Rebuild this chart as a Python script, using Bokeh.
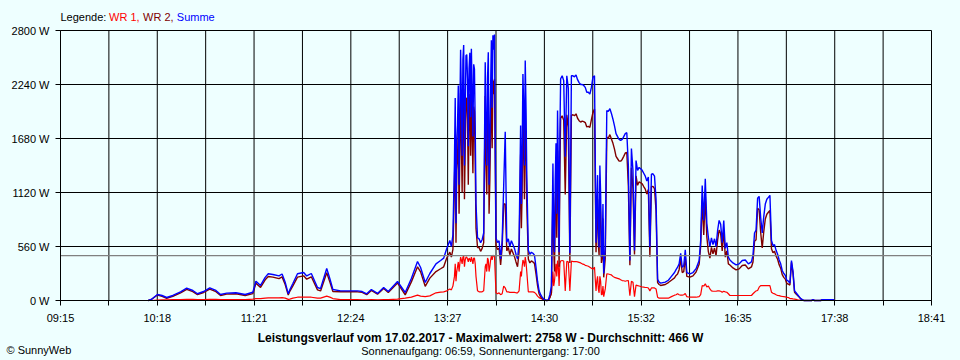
from bokeh.plotting import figure
from bokeh.models import Range1d, FixedTicker, PrintfTickFormatter, LinearAxis
from bokeh.core.properties import value
from bokeh.embed import file_html
from bokeh.resources import INLINE

# ---------------- data ----------------
times = [
    "10:12", "10:14", "10:18", "10:21", "10:24", "10:28", "10:33", "10:37", "10:41", "10:44", "10:48", "10:52", "10:56", "10:59",
    "11:03", "11:09", "11:15", "11:20", "11:22", "11:25", "11:28", "11:30", "11:33", "11:37", "11:39", "11:41", "11:43", "11:44", "11:46", "11:49", "11:53", "11:55", "11:58",
    "12:02", "12:04", "12:08", "12:10", "12:12", "12:17", "12:23", "12:28", "12:31", "12:34", "12:37", "12:41", "12:45", "12:48", "12:54", "12:59",
    "13:03", "13:07", "13:09", "13:12", "13:15", "13:19", "13:22", "13:24", "13:26", "13:28",
    "13:29", "13:30", "13:31", "13:32", "13:33", "13:34", "13:35", "13:36", "13:37", "13:38",
    "13:39", "13:40", "13:41", "13:42", "13:43", "13:44", "13:45", "13:46", "13:47", "13:48",
    "13:49", "13:50", "13:51", "13:52", "13:53", "13:54", "13:55", "13:56", "13:57", "13:58", "13:59",
    "14:00", "14:01", "14:02", "14:03", "14:04", "14:05", "14:06", "14:07", "14:08", "14:09",
    "14:10", "14:11", "14:12", "14:13", "14:14", "14:15", "14:16", "14:17", "14:18", "14:19",
    "14:20", "14:21", "14:22", "14:23", "14:24", "14:25", "14:26", "14:27", "14:28", "14:29",
    "14:30", "14:31", "14:32", "14:33", "14:34", "14:35", "14:36", "14:37", "14:38", "14:39",
    "14:40", "14:41", "14:42", "14:43", "14:44", "14:45", "14:46", "14:47", "14:48", "14:49",
    "14:50", "14:51", "14:52", "14:53", "14:54", "14:55", "14:56", "14:57", "14:58", "14:59",
    "15:00", "15:01", "15:02", "15:03", "15:04", "15:05", "15:06", "15:07", "15:08", "15:09",
    "15:10", "15:11", "15:12", "15:13", "15:14", "15:15", "15:16", "15:17", "15:18", "15:19",
    "15:20", "15:21", "15:22", "15:23", "15:24", "15:25", "15:26", "15:27", "15:28", "15:29",
    "15:30", "15:31", "15:32", "15:33", "15:34", "15:35", "15:36", "15:37", "15:38", "15:39",
    "15:40", "15:41", "15:42", "15:43", "15:44", "15:45",
    "15:48", "15:50", "15:52", "15:54", "15:55", "15:56", "15:57", "15:58", "15:59",
    "16:00", "16:01", "16:02", "16:04", "16:06", "16:08", "16:10",
    "16:11", "16:12", "16:13", "16:14", "16:15", "16:16", "16:17", "16:18", "16:19", "16:20",
    "16:21", "16:22", "16:23", "16:24", "16:25", "16:26", "16:27", "16:28", "16:29",
    "16:30", "16:32", "16:34", "16:36", "16:38", "16:40", "16:42", "16:44",
    "16:45", "16:46", "16:47", "16:48", "16:49", "16:50", "16:51", "16:52", "16:53", "16:54",
    "16:55", "16:56", "16:57", "16:58", "16:59",
    "17:00", "17:01", "17:02", "17:03", "17:04", "17:05", "17:06", "17:07", "17:08", "17:09",
    "17:10", "17:11", "17:12", "17:13", "17:14", "17:15", "17:16", "17:17", "17:18",
    "17:23", "17:24", "17:25", "17:29", "17:30", "17:37", "17:38",
]

summe = [
    0, 10, 62, 52, 31, 52, 90, 128, 104, 70, 93, 131, 104, 62,
    76, 80, 62, 86, 200, 156, 240, 277, 270, 255, 275, 190, 69, 110, 176, 277, 290, 255, 280,
    135, 124, 332, 228, 114, 100, 100, 100, 93, 69, 114, 73, 135, 93, 197, 83,
    228, 404, 342, 187, 280, 380, 415, 439, 540, 622,
    560, 680, 1430, 800, 1820, 1200, 2600, 1500, 2650, 2000,
    2550, 1600, 2570, 2610, 1700, 2400, 1000, 650, 640, 600,
    630, 700, 2470, 1400, 2575, 1600, 2700, 2750, 2758, 650, 600,
    620, 430, 620, 1190, 1750, 605, 640, 560, 620, 580,
    540, 480, 430, 600, 1815, 1500, 2000, 2489, 1300, 520,
    480, 500, 490, 470, 345, 200, 100, 60, 35, 15,
    5, 0, 5, 60, 150, 1420, 500, 1630, 1970, 500,
    2300, 2330, 2280, 1490, 2330, 2200, 490, 2330, 2330, 2320,
    2340, 2290, 2260, 2240, 2240, 2230, 2210, 2160, 2160, 2140,
    2210, 2316, 2330, 600, 1300, 550, 1100, 500, 280, 560,
    1970, 1960, 1990, 1940, 1880, 1810, 1730, 1700, 1670, 1660,
    1670, 1700, 1730, 1740, 1400, 415, 1576, 1350, 518, 1452,
    1350, 1380, 1366, 1350, 1320, 1290, 1240, 1280, 553, 1310,
    1314, 1290, 1050, 220, 190, 180,
    190, 210, 250, 290, 320, 345, 380, 490, 345,
    360, 525, 290, 277, 290, 330, 415,
    622, 1192, 830, 1262, 800, 656, 560, 650, 580, 640,
    560, 726, 830, 790, 600, 830, 540, 600, 450,
    420, 390, 370, 380, 415, 420, 380, 400,
    470, 700, 730, 1060, 1080, 860, 700, 870, 1000, 1050,
    1070, 1090, 622, 570, 580,
    520, 480, 420, 380, 311, 280, 260, 210, 200, 180,
    415, 300, 100, 80, 60, 40, 20, 10, 0,
    0, 8, 0, 0, 8, 8, 0,
]

wr1 = [
    0, 0, 5, 8, 8, 10, 10, 12, 12, 10, 10, 12, 12, 10,
    10, 10, 10, 15, 20, 20, 25, 28, 28, 28, 30, 25, 12, 15, 25, 34, 34, 34, 34,
    25, 25, 45, 35, 20, 10, 10, 10, 8, 8, 10, 8, 10, 10, 15, 25,
    35, 55, 45, 40, 48, 80, 86, 90, 100, 120,
    110, 150, 250, 200, 350, 300, 450, 380, 460, 420,
    450, 400, 430, 450, 380, 440, 250, 100, 90, 90,
    90, 100, 350, 300, 420, 350, 460, 470, 460, 80, 70,
    80, 60, 70, 150, 130, 90, 90, 85, 85, 85,
    85, 80, 80, 100, 300, 350, 400, 450, 300, 90,
    90, 90, 90, 85, 69, 45, 30, 22, 17, 8,
    3, 0, 3, 31, 69, 300, 200, 380, 415, 150,
    410, 415, 410, 100, 405, 400, 100, 410, 404, 404,
    404, 400, 395, 390, 380, 375, 365, 360, 355, 345,
    335, 325, 345, 100, 250, 80, 200, 60, 40, 120,
    277, 275, 270, 265, 250, 240, 235, 230, 225, 215,
    207, 205, 200, 205, 207, 50, 200, 190, 40, 160,
    155, 150, 145, 140, 138, 135, 135, 130, 100, 130,
    130, 130, 120, 34, 24, 24,
    24, 24, 40, 55, 60, 70, 60, 55, 55,
    60, 72, 40, 34, 34, 34, 40,
    60, 155, 150, 173, 140, 150, 120, 100, 96, 96,
    96, 100, 100, 96, 86, 96, 90, 86, 70,
    52, 52, 52, 52, 52, 52, 52, 52,
    70, 86, 100, 104, 138, 155, 155, 155, 155, 155,
    155, 155, 86, 75, 69,
    60, 52, 50, 45, 42, 40, 38, 34, 30, 20,
    20, 17, 15, 12, 8, 5, 2, 0, 0,
    0, 0, 0, 0, 0, 0, 0,
]

wr2 = [
    0, 10, 57, 44, 23, 42, 80, 116, 92, 60, 83, 119, 92, 52,
    66, 70, 52, 71, 180, 136, 215, 249, 242, 227, 245, 165, 57, 95, 151, 243, 256, 221, 246,
    110, 99, 287, 193, 94, 90, 90, 90, 85, 61, 104, 65, 125, 83, 182, 58,
    193, 349, 297, 147, 232, 300, 329, 349, 440, 502,
    450, 530, 1180, 600, 1470, 900, 2150, 1120, 2190, 1580,
    2100, 1200, 2140, 2160, 1320, 1960, 750, 550, 550, 510,
    540, 600, 2120, 1100, 2155, 1250, 2240, 2280, 2298, 570, 530,
    540, 370, 550, 1000, 1000, 515, 550, 475, 535, 495,
    455, 400, 350, 500, 1515, 1150, 1600, 2040, 1000, 430,
    390, 410, 400, 385, 276, 155, 70, 38, 18, 7,
    2, 0, 2, 29, 81, 1120, 300, 1250, 1555, 350,
    1890, 1915, 1870, 1100, 1925, 1800, 390, 1920, 1926, 1916,
    1936, 1890, 1865, 1850, 1860, 1855, 1845, 1800, 1805, 1795,
    1875, 1950, 1985, 500, 1050, 470, 900, 440, 240, 440,
    1693, 1685, 1720, 1675, 1630, 1570, 1495, 1470, 1445, 1445,
    1463, 1495, 1530, 1535, 1193, 365, 1376, 1160, 478, 1292,
    1195, 1230, 1221, 1210, 1182, 1155, 1105, 1150, 453, 1180,
    1184, 1160, 930, 186, 166, 156,
    166, 186, 210, 235, 260, 275, 320, 435, 290,
    300, 453, 250, 243, 256, 296, 375,
    562, 1037, 680, 1089, 660, 506, 440, 550, 484, 544,
    464, 626, 730, 694, 514, 734, 450, 514, 380,
    368, 338, 318, 328, 363, 368, 328, 348,
    400, 614, 630, 956, 942, 705, 545, 715, 845, 895,
    915, 935, 536, 495, 511,
    460, 428, 370, 335, 269, 240, 222, 176, 170, 160,
    395, 283, 85, 68, 52, 35, 18, 10, 0,
    0, 8, 0, 0, 8, 8, 0,
]

# extra half-minute samples inside the densest spike bursts
burst_times = [
    "13:31:30", "13:32:30", "13:33:30", "13:34:30", "13:35:30", "13:36:30", "13:37:30",
    "13:38:30", "13:39:30", "13:40:30", "13:41:30", "13:42:30", "13:43:30", "13:44:30",
    "13:51:30", "13:52:30", "13:53:30", "13:54:30", "13:55:30", "13:56:30",
    "14:14:30", "14:15:30", "14:16:30", "14:17:30",
    "14:35:30", "14:36:30", "14:37:30", "14:38:30", "14:39:30",
    "15:03:30", "15:04:30", "15:05:30", "15:06:30", "15:07:30",
]
burst_summe = [2100, 1650, 2230, 1900, 2100, 2500, 1400, 2540, 2300, 2400, 1900, 2150, 2450, 1800,
               1800, 2300, 1200, 2200, 2000, 2600,
               1000, 2350, 1400, 2000,
               700, 1250, 900, 1400, 1700,
               1000, 700, 1400, 450, 1000]
burst_wr1 = [380, 300, 400, 380, 420, 450, 350, 450, 430, 440, 400, 420, 440, 380,
             380, 440, 300, 420, 420, 460,
             250, 420, 350, 400,
             150, 300, 250, 350, 380,
             200, 120, 250, 60, 150]
burst_wr2 = [1720, 1350, 1830, 1520, 1680, 2050, 1050, 2090, 1870, 1960, 1500, 1730, 2010, 1420,
             1420, 1860, 900, 1780, 1580, 2140,
             750, 1930, 1050, 1600,
             550, 950, 650, 1050, 1320,
             800, 580, 1150, 390, 850]

x_start, x_end = "09:15", "18:41"
x_tick_labels = ["09:15", "10:18", "11:21", "12:24", "13:27", "14:30", "15:32", "16:35", "17:38", "18:41"]
y_ticks = [0, 560, 1120, 1680, 2240, 2800]
date = "17.02.2017"
max_value = 2758
average = 466
sunrise, sunset = "06:59", "17:00"

assert len(times) == len(summe) == len(wr1) == len(wr2)
assert len(burst_times) == len(burst_summe) == len(burst_wr1) == len(burst_wr2)

# ---------------- chart ----------------
BG = "#EEFFFF"
FONT = "Liberation Sans"
C_WR1, C_WR2, C_SUM = "#FF0000", "#800000", "#0000FF"
W, H = 960, 360
# plot area geometry on the page (pixels)
PL, PR, PT, PB = 60, 931, 30, 300


def to_min(s):
    parts = [int(v) for v in s.split(":")]
    return parts[0] * 60 + parts[1] + (parts[2] / 60 if len(parts) > 2 else 0)


rows = sorted(zip([to_min(t) for t in times + burst_times],
                  summe + burst_summe, wr1 + burst_wr1, wr2 + burst_wr2))
x = [r[0] for r in rows]
y_sum = [r[1] for r in rows]
y_wr1 = [r[2] for r in rows]
y_wr2 = [r[3] for r in rows]

x0, x1 = to_min(x_start), to_min(x_end)
y0, y1 = y_ticks[0], y_ticks[-1]

# the frame covers the whole canvas; data ranges chosen so the plot area sits at PL..PR / PT..PB
sx = (x1 - x0) / (PR - PL)
sy = (y1 - y0) / (PB - PT)
X_LO = x0 - PL * sx
Y_LO = y0 - (H - PB) * sy


def px(v):
    return X_LO + v * sx


def py(v):
    return Y_LO + (H - v) * sy


p = figure(width=W, height=H, output_backend="svg", toolbar_location=None,
           x_range=Range1d(X_LO, X_LO + W * sx), y_range=Range1d(Y_LO, Y_LO + H * sy),
           x_axis_location=None, y_axis_location=None, min_border=0,
           background_fill_color=BG, border_fill_color=BG, outline_line_color=None)
p.grid.visible = False

n_div = 2 * (len(x_tick_labels) - 1)
xt = [x0 + i * (x1 - x0) / n_div for i in range(n_div + 1)]
overrides = {}
for i, t in enumerate(xt):
    overrides[t] = x_tick_labels[i // 2] if i % 2 == 0 else ""

# grid lines (including frame top/right)
p.segment(x0=xt, y0=[y0] * len(xt), x1=xt, y1=[y1] * len(xt), line_color="black", line_width=1)
p.segment(x0=[x0] * len(y_ticks), y0=y_ticks, x1=[x1] * len(y_ticks), y1=y_ticks,
          line_color="black", line_width=1)

# axes fixed at the plot-area edges
xaxis = LinearAxis(fixed_location=y0, bounds=(x0, x1), ticker=FixedTicker(ticks=xt),
                   major_label_overrides=overrides)
yaxis = LinearAxis(fixed_location=x0, bounds=(y0, y1), ticker=FixedTicker(ticks=y_ticks),
                   formatter=PrintfTickFormatter(format="%d W"))
for ax in (xaxis, yaxis):
    ax.axis_line_color = "black"
    ax.major_tick_line_color = "black"
    ax.major_tick_out = 5
    ax.major_tick_in = 0
    ax.minor_tick_out = 0
    ax.minor_tick_in = 0
    ax.major_label_text_font = FONT
    ax.major_label_text_font_size = "11px"
    ax.major_label_text_color = "black"
xaxis.major_label_standoff = 6
yaxis.major_label_standoff = 6
p.add_layout(xaxis, "below")
p.add_layout(yaxis, "left")

# series
p.line(x, y_wr1, line_color=C_WR1, line_width=1.2)
p.line(x, y_wr2, line_color=C_WR2, line_width=1.4)
p.line(x, y_sum, line_color=C_SUM, line_width=1.4)

# average line
p.segment(x0=[x0], y0=[average], x1=[x1], y1=[average], line_color="#808080", line_width=1.2)

# legend text (coloured parts)
p.text(x=[px(60), px(108.5), px(142.5), px(176.3)], y=[py(16.7)] * 4,
       text=["Legende: ", "WR 1, ", "WR 2, ", "Summe"],
       text_color=["black", C_WR1, C_WR2, C_SUM],
       text_font=value(FONT), text_font_size=value("11px"),
       text_baseline="alphabetic", text_align="left")

# footer texts
p.text(x=[px(480)], y=[py(337)],
       text=[f"Leistungsverlauf vom {date} - Maximalwert: {max_value} W - Durchschnitt: {average} W"],
       text_color="black", text_font=value(FONT), text_font_size=value("12px"),
       text_font_style="bold", text_baseline="alphabetic", text_align="center")
p.text(x=[px(480), px(6)], y=[py(350), py(349.5)],
       text=[f"Sonnenaufgang: {sunrise}, Sonnenuntergang: {sunset}", "\u00a9 SunnyWeb"],
       text_align=["center", "left"],
       text_color="black", text_font=value(FONT), text_font_size=value("11px"),
       text_baseline="alphabetic")

html = file_html(p, INLINE)
html = html.replace("</head>", "<style>html,body{background-color:%s;}</style></head>" % BG, 1)
open("out.html", "w").write(html)
